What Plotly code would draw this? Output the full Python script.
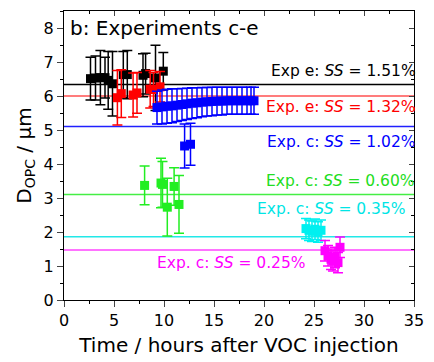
import plotly.graph_objects as go

# ---- data ----
black_x = [2.65, 3.15, 3.64, 4.1, 4.42, 4.85, 5.93, 6.33, 7.9, 8.16, 9.15, 9.93]
black_y = [6.51, 6.53, 6.54, 6.54, 6.46, 6.36, 6.63, 6.63, 6.61, 6.66, 6.53, 6.73]
black_err = [0.63, 0.65, 0.8, 0.6, 0.85, 0.95, 0.68, 0.71, 0.63, 0.6, 0.96, 0.55]

red_x = [5.34, 5.73, 6.91, 7.3, 8.62, 8.95, 9.6]
red_y = [5.95, 6.07, 6.03, 6.09, 6.2, 6.19, 6.27]
red_err = [0.8, 0.7, 0.65, 0.6, 0.55, 0.5, 0.45]

blue_x = [9.3, 9.8, 10.3, 10.8, 11.3, 11.8, 12.3, 12.8, 13.3, 13.8, 14.3,
          14.8, 15.3, 15.8, 16.3, 16.8, 17.3, 17.8, 18.3, 18.7, 19.0]
blue_y = [5.66, 5.68, 5.7, 5.71, 5.73, 5.75, 5.77, 5.79, 5.8, 5.82, 5.83,
          5.84, 5.85, 5.85, 5.86, 5.86, 5.86, 5.86, 5.86, 5.86, 5.86]
blue_err = [0.48, 0.5, 0.5, 0.5, 0.48, 0.47, 0.46, 0.45, 0.44, 0.43, 0.42,
            0.42, 0.41, 0.41, 0.4, 0.4, 0.4, 0.4, 0.4, 0.4, 0.4]
blue2_x = [12.06, 12.65]
blue2_y = [4.53, 4.58]
blue2_err = [0.65, 0.62]

green_x = [8.06, 9.7, 9.85, 10.33, 11.01, 11.5]
green_y = [3.37, 3.44, 3.4, 2.73, 3.34, 2.81]
green_err = [0.57, 0.73, 0.67, 0.85, 0.55, 0.85]

cyan_x = [24.2, 24.5, 24.8, 25.1, 25.4, 25.7]
cyan_y = [2.1, 2.05, 2.02, 2.08, 2.0, 2.05]
cyan_err = [0.3, 0.3, 0.3, 0.3, 0.3, 0.3]

mag_x = [26.1, 26.4, 26.7, 26.9, 27.1, 27.4, 27.6]
mag_y = [1.45, 1.3, 1.2, 1.15, 1.25, 1.1, 1.55]
mag_err = [0.3, 0.3, 0.3, 0.3, 0.3, 0.3, 0.3]

line_vals = [6.34, 6.0, 5.1, 3.1, 1.86, 1.47]
line_colors = ["#000000", "#ff5050", "#2020ff", "#44ee44", "#22e8e8", "#ff44ff"]

labels = ["Exp e: <i>SS</i> = 1.51%", "Exp. e: <i>SS</i> = 1.32%",
          "Exp. c: <i>SS</i> = 1.02%", "Exp. c: <i>SS</i> = 0.60%",
          "Exp. c: <i>SS</i> = 0.35%", "Exp. c: <i>SS</i> = 0.25%"]
label_x = [34.6, 34.6, 34.6, 34.5, 33.6, 23.6]
label_y = [6.73, 5.68, 4.66, 3.51, 2.69, 1.08]
label_colors = ["#000000", "#ff0000", "#0000ff", "#22dd22", "#00e5e5", "#ff00ff"]

fig = go.Figure()

def add_series(x, y, e, color):
    fig.add_trace(go.Scatter(
        x=x, y=y, mode="markers",
        marker=dict(symbol="square", size=9, color=color, line=dict(width=0)),
        error_y=dict(type="data", array=e, visible=True, color=color,
                     thickness=1.5, width=5),
        showlegend=False))

add_series(black_x, black_y, black_err, "#000000")
add_series(red_x, red_y, red_err, "#ff0000")
add_series(blue_x, blue_y, blue_err, "#0000ff")
add_series(blue2_x, blue2_y, blue2_err, "#0000ff")
add_series(green_x, green_y, green_err, "#22ee22")
add_series(cyan_x, cyan_y, cyan_err, "#00f0f0")
add_series(mag_x, mag_y, mag_err, "#ff00ff")

for v, c in zip(line_vals, line_colors):
    fig.add_shape(type="line", xref="paper", x0=0, x1=1, yref="y", y0=v, y1=v,
                  line=dict(color=c, width=1.5), layer="below")

for t, x, y, c in zip(labels, label_x, label_y, label_colors):
    fig.add_annotation(x=x, y=y, text=t, showarrow=False, xanchor="right",
                       yanchor="middle", xshift=8,
                       font=dict(size=15.5, color=c))

fig.add_annotation(xref="paper", yref="paper", x=0.012, y=0.99,
                   text="b: Experiments c-e", showarrow=False,
                   xanchor="left", yanchor="top",
                   font=dict(size=20, color="black"))

# dummy trace for mirrored inside-tick axes
fig.add_trace(go.Scatter(x=[None], y=[None], xaxis="x2", yaxis="y2",
                         showlegend=False, hoverinfo="skip"))

font_family = "DejaVu Sans, Arial, sans-serif"
fig.update_layout(
    width=434, height=362,
    margin=dict(l=64, r=14, t=10, b=61),
    paper_bgcolor="white", plot_bgcolor="white",
    font=dict(family=font_family, color="black"),
    xaxis=dict(range=[0, 35], dtick=5, tick0=0, ticks="outside", ticklen=6,
               tickwidth=1, showline=True, linecolor="black", linewidth=1,
               mirror=True, showgrid=False, zeroline=False,
               tickfont=dict(size=16),
               minor=dict(dtick=2.5, ticks="outside", ticklen=3, tickcolor="black"),
               title=dict(text="Time / hours after VOC injection",
                          font=dict(size=20), standoff=8)),
    yaxis=dict(range=[0, 8.5], dtick=1, tick0=0, ticks="outside", ticklen=6,
               tickwidth=1, showline=True, linecolor="black", linewidth=1,
               mirror=True, showgrid=False, zeroline=False,
               tickfont=dict(size=16),
               minor=dict(dtick=0.5, ticks="outside", ticklen=3, tickcolor="black"),
               title=dict(text="D<sub>OPC</sub> / µm", font=dict(size=20),
                          standoff=6)),
    xaxis2=dict(range=[0, 35], dtick=5, overlaying="x", side="top",
                ticks="inside", ticklen=5, showticklabels=False,
                showgrid=False, zeroline=False,
                minor=dict(dtick=2.5, ticks="inside", ticklen=3, tickcolor="black")),
    yaxis2=dict(range=[0, 8.5], dtick=1, overlaying="y", side="right",
                ticks="inside", ticklen=5, showticklabels=False,
                showgrid=False, zeroline=False,
                minor=dict(dtick=0.5, ticks="inside", ticklen=3, tickcolor="black")),
)

fig.write_html("out.html")
